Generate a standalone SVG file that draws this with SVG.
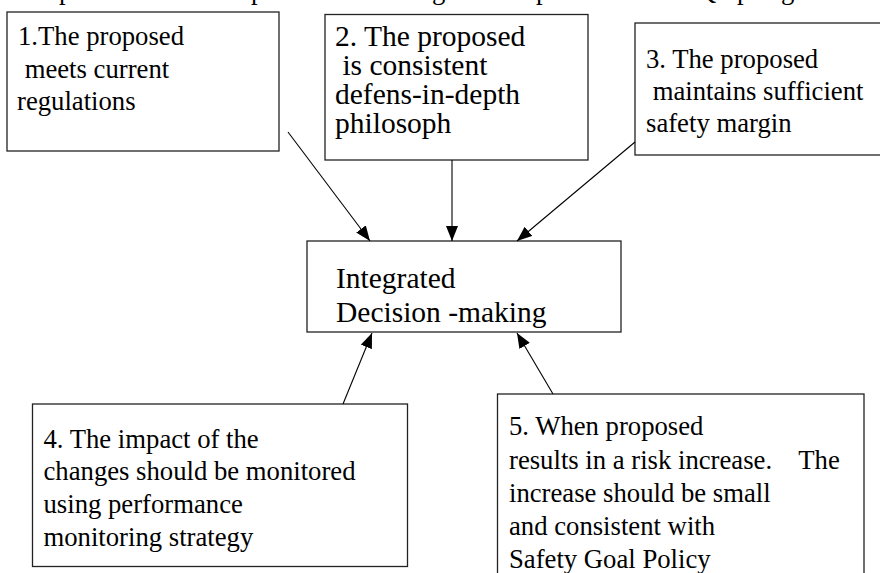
<svg xmlns="http://www.w3.org/2000/svg" width="880" height="573" viewBox="0 0 880 573">
<style>
.box{fill:#fff;stroke:#222;stroke-width:1.3}
.t{font-family:"Liberation Serif","Times New Roman",serif;font-size:26.7px;fill:#000}
.tb{font-family:"Liberation Serif","Times New Roman",serif;font-size:29.5px;fill:#000}
.c{stroke:#000;stroke-width:1.1;fill:none;marker-end:url(#ah)}
</style>
<defs>
<marker id="ah" markerUnits="userSpaceOnUse" markerWidth="16" markerHeight="12" refX="15" refY="6" orient="auto">
<path d="M0,0 L15,6 L0,12 Z" fill="#000"/>
</marker>
</defs>
<rect width="880" height="573" fill="#fff"/>
<text class="t" y="-1.5" x="59 251 432 536 697 737 781">ppgpQpg</text>
<g id="n1">
<rect class="box" x="7" y="12" width="272" height="139"/>
<text class="t" x="18" y="45">1.The proposed</text>
<text class="t" x="18" y="78" xml:space="preserve"> meets current</text>
<text class="t" x="17" y="110">regulations</text>
</g>
<g id="n2">
<rect class="box" x="325" y="14.5" width="263" height="145.5"/>
<text class="tb" x="335" y="46">2. The proposed</text>
<text class="tb" x="335" y="75" xml:space="preserve"> is consistent</text>
<text class="tb" x="335" y="103.5">defens-in-depth</text>
<text class="tb" x="335" y="132.5">philosoph</text>
</g>
<g id="n3">
<rect class="box" x="635" y="23" width="260" height="132"/>
<text class="t" x="646" y="68">3. The proposed</text>
<text class="t" x="646" y="100" xml:space="preserve"> maintains sufficient</text>
<text class="t" x="646" y="131.5">safety margin</text>
</g>
<g id="center">
<rect class="box" x="307" y="241" width="314" height="91"/>
<text class="tb" x="336" y="287.5">Integrated</text>
<text class="tb" x="336" y="321.5">Decision -making</text>
</g>
<g id="n4">
<rect class="box" x="32.5" y="404" width="375" height="162.5"/>
<text class="t" x="43.5" y="448">4. The impact of the</text>
<text class="t" x="43.5" y="480">changes should be monitored</text>
<text class="t" x="43.5" y="512.5">using performance</text>
<text class="t" x="43.5" y="545.5">monitoring strategy</text>
</g>
<g id="n5">
<rect class="box" x="497.5" y="394" width="366.5" height="200"/>
<text class="t" x="509" y="435">5. When proposed</text>
<text class="t" x="509" y="469" xml:space="preserve">results in a risk increase.    The</text>
<text class="t" x="509" y="501.5">increase should be small</text>
<text class="t" x="509" y="535">and consistent with</text>
<text class="t" x="509" y="567.5">Safety Goal Policy</text>
</g>
<g id="connectors">
<line class="c" x1="288" y1="132" x2="370" y2="241"/>
<line class="c" x1="452" y1="160" x2="452" y2="241"/>
<line class="c" x1="635" y1="142" x2="517" y2="241"/>
<line class="c" x1="343" y1="404" x2="372" y2="333"/>
<line class="c" x1="553" y1="394" x2="517" y2="333"/>
</g>
</svg>
